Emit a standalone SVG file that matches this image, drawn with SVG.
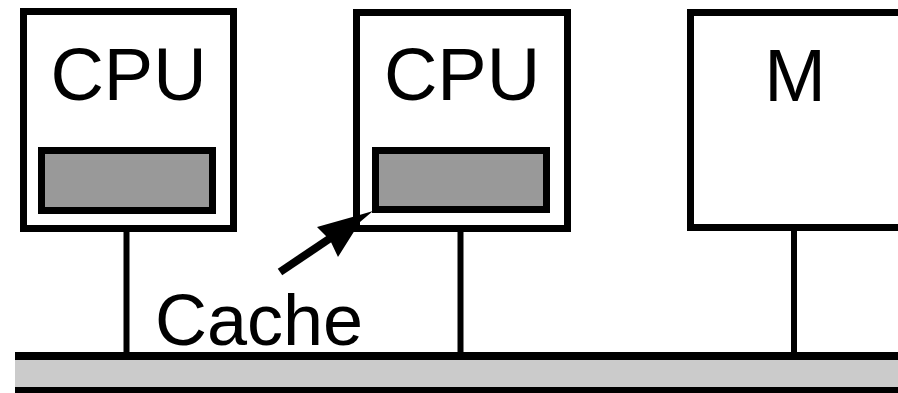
<svg xmlns="http://www.w3.org/2000/svg" width="898" height="393" viewBox="0 0 898 393">
<style>
.box{fill:#fff;stroke:#000;stroke-width:7}
.cache{fill:#999;stroke:#000;stroke-width:7}
.lbl{font-family:"Liberation Sans",Arial,sans-serif;font-size:74px;fill:#000;text-anchor:middle}
.wire{stroke:#000;stroke-width:6;fill:none}
</style>
<rect width="898" height="393" fill="#fff"/>
<g id="bus">
<rect x="15" y="360" width="883" height="27" fill="#cbcbcb"/>
<rect x="15" y="352" width="883" height="8" fill="#000"/>
<rect x="15" y="387" width="883" height="6" fill="#000"/>
</g>
<g id="cpu1">
<rect class="box" x="23.5" y="11.5" width="210" height="217"/>
<text class="lbl" x="128.5" y="100">CPU</text>
<rect class="cache" x="41.5" y="150.5" width="171" height="60"/>
</g>
<g id="cpu2">
<rect class="box" x="356.5" y="12.5" width="211" height="216"/>
<text class="lbl" x="462" y="100">CPU</text>
<rect class="cache" x="375.5" y="150.5" width="171" height="59"/>
</g>
<g id="mem">
<rect class="box" x="690.5" y="12.5" width="260" height="215"/>
<text class="lbl" x="795" y="101">M</text>
</g>
<g id="cache-label">
<text x="155" y="345" font-family="'Liberation Sans',Arial,sans-serif" font-size="72" fill="#000">Cache</text>
</g>
<g id="connectors">
<line class="wire" x1="126.5" y1="232" x2="126.5" y2="353"/>
<line class="wire" x1="460.5" y1="232" x2="460.5" y2="353"/>
<line class="wire" x1="794" y1="231" x2="794" y2="353"/>
<line x1="280" y1="272" x2="332" y2="237" stroke="#000" stroke-width="8"/>
<polygon points="373,211 360,222 338,257 330,240 317,227 356,216" fill="#000"/>
</g>
</svg>
